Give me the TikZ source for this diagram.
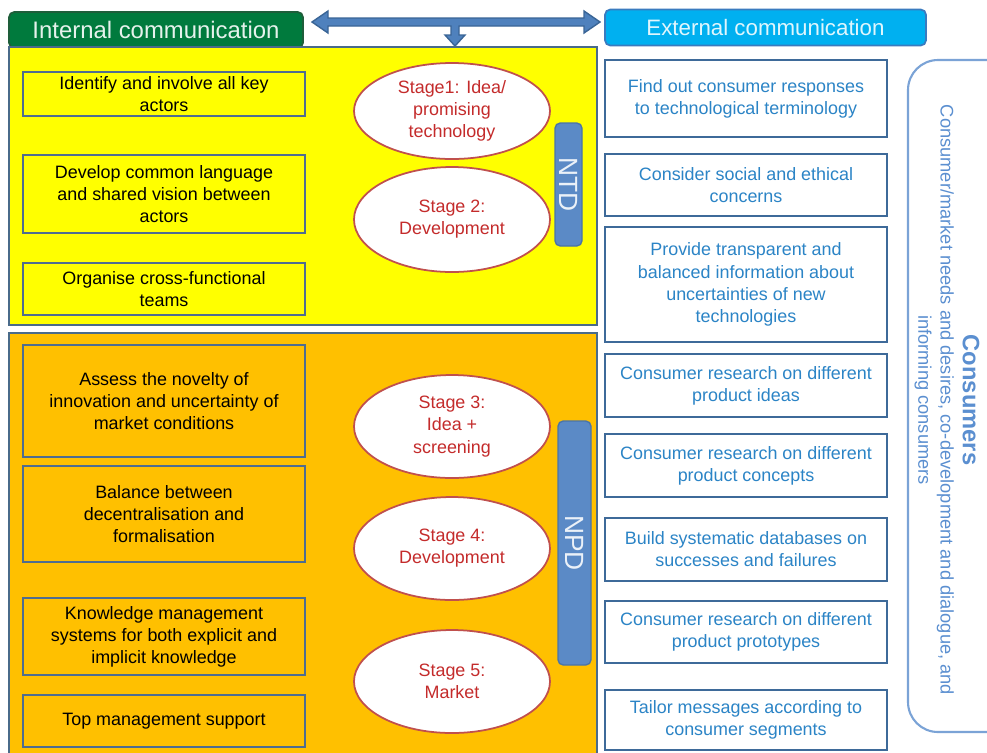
\documentclass[tikz,border=0pt]{standalone}
\usepackage{fontspec}
\setmainfont{Liberation Sans}
\usepackage{tikz}
\usetikzlibrary{shapes.geometric}

\definecolor{intgreen}{HTML}{007A3D}
\definecolor{intgreenline}{HTML}{1E5E3A}
\definecolor{extcyan}{HTML}{00B0F0}
\definecolor{extcyanline}{HTML}{3A7BBF}
\definecolor{ntdyellow}{HTML}{FFFF00}
\definecolor{npdorange}{HTML}{FFC000}
\definecolor{phaseline}{HTML}{4A6B8A}
\definecolor{lline}{HTML}{4F6D8F}
\definecolor{rline}{HTML}{3E6A99}
\definecolor{rtext}{HTML}{2B84C6}
\definecolor{stageline}{HTML}{C0504D}
\definecolor{stagetext}{HTML}{C42B2B}
\definecolor{barblue}{HTML}{5B8AC6}
\definecolor{barline}{HTML}{4A74A8}
\definecolor{consline}{HTML}{7BA3D6}
\definecolor{constext}{HTML}{5B8FD0}
\definecolor{arrowblue}{HTML}{4F81BD}
\definecolor{arrowline}{HTML}{3A6596}

\newcommand{\px}{0.02cm}
\newcommand{\bodyfont}{\fontsize{10.2}{12.6}\selectfont}

\tikzset{
  head/.style={rounded corners=3pt, line width=1pt, minimum height=36*\px,
    font=\fontsize{12.7}{15}\selectfont, inner sep=0pt},
  phase/.style={draw=phaseline, line width=1.2pt},
  lbox/.style={draw=lline, line width=1.2pt, minimum width=282*\px,
    align=center, font=\bodyfont, inner sep=0pt},
  rbox/.style={draw=rline, fill=white, line width=1.2pt, minimum width=282*\px,
    align=center, font=\bodyfont, text=rtext, inner sep=0pt},
  stage/.style={ellipse, draw=stageline, fill=white, line width=1pt,
    minimum width=196*\px, align=center, font=\bodyfont, text=stagetext, inner sep=0pt},
  bar/.style={rounded corners=3pt, fill=barblue, draw=barline, line width=0.8pt,
    text=white!88!barblue, rotate=-90, font=\fontsize{15}{18}\selectfont, inner sep=0pt}
}

\begin{document}
\begin{tikzpicture}[x=0.02cm, y=-0.02cm]
\useasboundingbox (0,0) rectangle (987,752);
\clip (0,0) rectangle (987,752);

% headers
\node[head, fill=intgreen, draw=intgreenline, text=white!90!intgreen,
  minimum width=294*\px, font=\fontsize{13.6}{16}\selectfont] (intl) at (156,30) {Internal communication};
\node[head, fill=extcyan, draw=extcyanline, text=white!88!extcyan,
  minimum width=321*\px] (extl) at (765.5,27.5) {External communication};

% block arrow between the two sides
\filldraw[fill=arrowblue, draw=arrowline, line width=0.8pt]
  (312,22) -- (328,11) -- (328,18) -- (584,18) -- (584,11) -- (600,22)
  -- (584,33) -- (584,26) -- (459,26) -- (459,35) -- (465,35) -- (455,46)
  -- (445,35) -- (451,35) -- (451,26) -- (328,26) -- (328,33) -- cycle;

% NTD and NPD areas
\draw[phase, fill=ntdyellow] (9,47) rectangle (597,325);
\draw[phase, fill=npdorange] (9,333) rectangle (597,770);

% internal communication boxes
\node[lbox, minimum height=44*\px] (ident) at (164,94) {Identify and involve all key\\actors};
\node[lbox, minimum height=78*\px] (lang) at (164,194) {Develop common language\\and shared vision between\\actors};
\node[lbox, minimum height=52*\px] (teams) at (164,289) {Organise cross-functional\\teams};
\node[lbox, minimum height=112*\px] (novel) at (164,401) {Assess the novelty of\\innovation and uncertainty of\\market conditions};
\node[lbox, minimum height=96*\px] (balance) at (164,514) {Balance between\\decentralisation and\\formalisation};
\node[lbox, minimum height=77*\px] (knowl) at (164,636.5) {Knowledge management\\systems for both explicit and\\implicit knowledge};
\node[lbox, minimum height=52*\px] (topm) at (164,721) {Top management support};

% stages
\node[stage, minimum height=96*\px] (st1) at (452,111) {Stage1: Idea/\\promising\\technology};
\node[stage, minimum height=105*\px] (st2) at (452,219.5) {Stage 2:\\Development};
\node[stage, minimum height=103*\px] (st3) at (452,426.5) {Stage 3:\\Idea +\\screening};
\node[stage, minimum height=103*\px] (st4) at (452,548.5) {Stage 4:\\Development};
\node[stage, minimum height=103*\px] (st5) at (452,681.5) {Stage 5:\\Market};

\node[bar, minimum width=123*\px, minimum height=27*\px] (ntd) at (568.5,184.5) {NTD};
\node[bar, minimum width=244*\px, minimum height=33*\px] (npd) at (574.5,543) {NPD};

% external communication boxes
\node[rbox, minimum height=77*\px] (resp) at (746,98.5) {Find out consumer responses\\to technological terminology};
\node[rbox, minimum height=62*\px] (ethic) at (746,185) {Consider social and ethical\\concerns};
\node[rbox, minimum height=115*\px] (transp) at (746,284.5) {Provide transparent and\\balanced information about\\uncertainties of new\\technologies};
\node[rbox, minimum height=63*\px] (ideas) at (746,385.5) {Consumer research on different\\product ideas};
\node[rbox, minimum height=63*\px] (concepts) at (746,465.5) {Consumer research on different\\product concepts};
\node[rbox, minimum height=63*\px] (dbase) at (746,549.5) {Build systematic databases on\\successes and failures};
\node[rbox, minimum height=62*\px] (proto) at (746,632) {Consumer research on different\\product prototypes};
\node[rbox, minimum height=60*\px] (tailor) at (746,720) {Tailor messages according to\\consumer segments};

% consumers
\draw[draw=consline, line width=1.2pt, rounded corners=0.6cm] (908,60) rectangle (1030,732);
\node[rotate=-90, align=center, text=constext, font=\fontsize{10.4}{12.6}\selectfont, inner sep=0pt] (cons) at (947,400)
  {{\fontsize{13.5}{16}\bfseries Consumers}\\Consumer/market needs and desires, co-development and dialogue, and\\informing consumers};
\end{tikzpicture}
\end{document}
